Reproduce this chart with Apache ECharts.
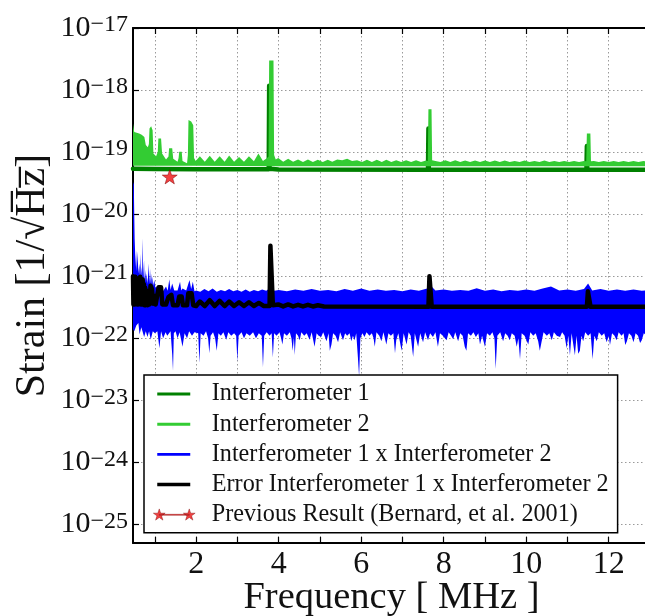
<!DOCTYPE html>
<html><head><meta charset="utf-8">
<script src="https://cdn.jsdelivr.net/npm/echarts@6/dist/echarts.min.js"></script>
<style>html,body{margin:0;padding:0;background:#fff}#c{width:645px;height:616px}</style>
</head><body><div id="c"></div>
<script>
// ---------- axis settings ----------
const X_MIN = 0.47, X_MAX = 13;
const Y_MIN = 5e-26, Y_MAX = 1e-17;
const xTicks = [1,2,3,4,5,6,7,8,9,10,11,12];
const xTickLabels = [2,4,6,8,10,12];
const yTicks = [1e-25,1e-24,1e-23,1e-22,1e-21,1e-20,1e-19,1e-18,1e-17];

// ---------- data (frequency MHz, strain in the stated unit) ----------
const U20 = 1e-20, U22 = 1e-22;

// Interferometer 1 (units 1e-20)
const ifo1 = [[0.47,5.4],[1.0,5.35],[2.0,5.3],[3.76,5.3],[3.77,117],[3.78,5.4],[4.0,5.25],[7.62,5.2],[7.63,24],[7.64,5.2],[11.46,5.2],[11.47,12.5],[11.48,5.2],[13,5.2]];

// Interferometer 2 upper / lower edge (units 1e-20)
const ifo2Hi = [[0.47,29],[0.50,21],[0.56,20.5],[0.62,20],[0.68,19],[0.745,17.5],[0.78,13],[0.83,12],[0.855,13.5],[0.87,24],[0.91,26],[0.945,22.5],[0.965,9.5],[1.03,8.6],[1.07,10],[1.085,16.6],[1.15,16.6],[1.175,9.5],[1.27,7.6],[1.33,8.5],[1.345,11.5],[1.42,11.5],[1.445,7.8],[1.55,7.0],[1.575,8.0],[1.59,10.1],[1.65,10.1],[1.67,7.2],[1.78,6.6],[1.80,9],[1.815,33],[1.88,31],[1.93,27],[1.95,8],[1.99,7.2],
[2.09,8.6],[2.21,7.0],[2.33,8.7],[2.45,7.0],[2.57,8.6],[2.69,7.0],[2.80,8.8],[2.92,7.0],[3.04,8.3],[3.16,7.0],[3.28,8.6],[3.40,7.1],[3.51,9.5],[3.62,7.2],[3.72,8.0],[3.755,8.5],[3.77,300],[3.875,300],[3.89,9],[3.93,7.6],
[3.99,8.0],[4.11,7.0],[4.23,7.8],[4.35,7.0],[4.47,7.6],[4.59,6.9],[4.71,7.6],[4.83,6.9],[4.95,7.5],[5.07,6.9],[5.19,7.5],[5.30,7.0],[5.42,7.6],[5.54,7.4],[5.66,7.8],[5.78,7.2],[5.90,7.4],[6.02,6.9],[6.14,7.5],[6.26,6.9],[6.38,7.5],[6.50,6.9],[6.61,7.5],[6.73,6.9],[6.85,7.4],[6.97,6.9],[7.09,7.4],[7.21,6.9],[7.33,7.4],[7.45,6.9],[7.57,7.3],[7.615,7.2],[7.63,49],[7.705,49],[7.72,7.4],[7.80,7.2],[7.92,6.9],[8.04,7.4],[8.16,6.9],[8.28,7.4],[8.40,6.9],[8.52,7.3],[8.64,6.9],[8.76,7.3],[8.88,6.9],[9.0,7.3],[9.12,6.9],[9.24,7.3],[9.36,6.9],[9.48,7.3],[9.60,6.9],[9.72,7.2],[9.84,6.9],[9.96,7.3],[10.08,6.9],[10.20,7.2],[10.32,6.9],[10.44,7.3],[10.56,6.9],[10.68,7.2],[10.80,6.9],[10.92,7.2],[11.04,6.9],[11.16,7.2],[11.28,6.9],[11.40,7.2],[11.455,7.1],[11.47,20],[11.555,20],[11.57,7.1],[11.64,7.2],[11.76,6.9],[11.88,7.2],[12.0,6.9],[12.12,7.2],[12.24,6.9],[12.36,7.2],[12.48,6.9],[12.60,7.2],[12.72,6.9],[12.84,7.2],[12.96,6.9],[13.0,7.0]];
const ifo2Lo = [[0.47,6.0],[2.0,6.0],[4.0,5.9],[13.0,5.9]];

// Interferometer 1 x Interferometer 2 upper / lower edge (units 1e-22)
const crossHi = [[0.47,330],[0.49,300],[0.50,100],[0.51,40],[0.52,26],[0.53,14],[0.545,26],[0.56,12],[0.58,25],[0.60,11],[0.625,16],[0.635,10],[0.648,23],[0.66,10],[0.672,14],[0.69,9],[0.704,41],[0.72,9],[0.738,18],[0.75,8],[0.769,12.6],[0.785,8],[0.80,11],[0.825,7.5],[0.85,16],[0.865,7.5],[0.883,13],[0.90,7.5],[0.915,11],[0.93,7],[0.947,9.8],[0.965,7],[0.988,8.7],[1.01,6.5],[1.03,6.8],[1.07,6.2],[1.11,7.1],[1.15,6.3],[1.19,5.6],[1.27,6.8],[1.31,5.8],[1.35,8.9],[1.38,6.0],[1.42,7.6],[1.47,5.9],[1.55,5.9],[1.61,8.1],[1.64,5.9],[1.67,6.3],[1.76,5.9],[1.84,8.7],[1.88,6.2],[1.92,8.1],[1.96,5.7],[2.0,5.9],
[2.1,5.6],[2.2,6.2],[2.3,5.7],[2.4,6.3],[2.5,5.6],[2.6,6.0],[2.7,5.7],[2.8,6.2],[2.9,5.7],[3.0,6.0],[3.1,5.6],[3.2,6.1],[3.3,5.6],[3.4,6.0],[3.5,5.7],[3.6,6.1],[3.7,5.8],[3.8,6.5],[3.9,5.8],[4.0,6.0],[4.2,5.7],[4.4,6.1],[4.6,5.8],[4.8,6.2],[5.0,5.8],[5.2,6.0],[5.4,5.7],[5.6,6.2],[5.8,5.8],[6.0,6.3],[6.2,5.8],[6.4,6.1],[6.6,5.8],[6.8,6.0],[7.0,5.7],[7.2,6.1],[7.4,5.8],[7.6,6.3],[7.7,6.9],[7.8,5.9],[8.0,6.1],[8.2,5.8],[8.4,6.0],[8.6,5.8],[8.8,6.4],[9.0,5.8],[9.2,6.1],[9.4,5.7],[9.6,6.0],[9.8,5.8],[10.0,6.1],[10.2,5.8],[10.4,6.3],[10.6,6.8],[10.8,5.9],[11.0,6.1],[11.2,5.8],[11.4,6.2],[11.5,7.6],[11.6,5.9],[11.8,6.2],[12.0,5.8],[12.2,6.1],[12.4,5.8],[12.6,6.1],[12.8,5.8],[13.0,6.0]];
const crossLo = [[0.47,1.4],[0.50,1.3],[0.55,1.6],[0.60,1.75],[0.63,1.15],[0.67,1.5],[0.70,1.3],[0.74,1.05],[0.78,1.3],[0.82,1.05],[0.86,1.3],[0.90,0.95],[0.95,1.3],[1.0,1.2],[1.06,1.3],[1.11,0.69],[1.15,1.3],[1.2,1.0],[1.26,1.25],[1.3,1.1],[1.38,1.3],[1.42,0.55],[1.44,0.30],[1.46,1.2],[1.5,1.3],[1.55,1.0],[1.6,1.25],[1.67,0.73],[1.72,1.2],[1.78,1.0],[1.83,1.3],[1.9,1.1],[1.96,1.25],[2.05,1.2],[2.08,0.40],[2.11,1.2],[2.18,1.1],[2.24,1.3],[2.29,1.0],[2.32,0.57],[2.35,1.1],[2.41,1.25],[2.46,1.0],[2.50,0.63],[2.54,1.2],[2.6,1.1],[2.66,1.25],[2.73,0.94],[2.78,1.25],[2.85,1.1],[2.92,1.2],[2.97,1.1],[3.0,0.42],[3.03,1.1],[3.1,1.25],[3.16,1.0],[3.22,1.2],[3.3,1.1],[3.38,1.25],[3.45,1.0],[3.52,1.2],[3.59,1.1],[3.62,0.34],[3.65,1.1],[3.71,1.25],[3.78,1.1],[3.83,1.2],[3.86,0.49],[3.89,1.2],[3.95,1.1],[4.02,1.25],[4.06,1.0],[4.09,0.79],[4.13,1.2],[4.2,1.1],[4.27,1.25],[4.31,1.0],[4.34,0.63],[4.37,1.05],[4.39,0.53],[4.42,1.2],[4.47,1.1],[4.51,0.93],[4.55,1.25],[4.62,1.1],[4.68,1.2],[4.75,0.94],[4.80,1.25],[4.87,0.73],[4.92,1.2],[4.97,1.1],[5.03,1.05],[5.08,1.25],[5.16,0.89],[5.21,1.2],[5.24,0.63],[5.28,0.79],[5.32,1.2],[5.38,1.1],[5.44,0.86],[5.49,1.25],[5.56,0.93],[5.61,1.2],[5.66,1.1],[5.72,1.2],[5.76,0.89],[5.80,1.1],[5.84,0.93],[5.88,1.2],[5.92,0.5],[5.95,0.24],[5.98,1.0],[6.03,1.2],[6.08,1.05],[6.13,1.25],[6.2,1.1],[6.26,1.2],[6.30,1.0],[6.33,0.73],[6.37,1.25],[6.44,1.1],[6.49,0.89],[6.54,1.25],[6.61,0.79],[6.66,1.2],[6.72,1.1],[6.78,1.2],[6.82,0.57],[6.85,0.93],[6.9,1.2],[6.98,0.63],[7.03,1.2],[7.10,0.79],[7.15,1.25],[7.2,1.1],[7.26,0.5],[7.30,1.2],[7.38,0.73],[7.43,1.2],[7.50,0.86],[7.55,1.25],[7.62,0.93],[7.67,1.2],[7.74,1.05],[7.80,1.25],[7.86,0.73],[7.91,1.2],[7.98,1.1],[8.07,0.93],[8.12,1.25],[8.18,1.1],[8.23,0.96],[8.28,1.25],[8.35,0.89],[8.40,1.2],[8.46,1.1],[8.51,0.73],[8.55,0.63],[8.59,1.2],[8.66,1.1],[8.72,1.25],[8.78,1.05],[8.84,1.2],[8.88,0.79],[8.93,1.1],[9.0,0.73],[9.05,1.2],[9.12,1.1],[9.18,1.25],[9.23,1.0],[9.26,0.32],[9.30,1.1],[9.37,1.25],[9.44,0.89],[9.49,1.2],[9.55,1.1],[9.60,0.93],[9.65,1.2],[9.72,1.1],[9.77,0.73],[9.81,1.0],[9.85,0.46],[9.89,1.2],[9.96,1.1],[10.05,0.79],[10.10,1.25],[10.17,1.1],[10.23,1.2],[10.29,0.89],[10.33,0.63],[10.37,0.86],[10.42,1.25],[10.5,1.1],[10.56,1.2],[10.62,0.93],[10.67,1.25],[10.74,1.1],[10.82,1.05],[10.87,1.25],[10.93,1.1],[10.98,0.69],[11.02,1.1],[11.06,0.53],[11.10,1.2],[11.18,0.53],[11.22,1.1],[11.26,0.56],[11.30,0.63],[11.34,1.1],[11.38,0.89],[11.43,1.25],[11.5,1.1],[11.56,1.2],[11.61,0.46],[11.65,1.1],[11.71,0.89],[11.76,1.25],[11.83,1.1],[11.89,1.2],[11.95,0.86],[12.0,1.1],[12.03,0.78],[12.08,1.2],[12.14,1.1],[12.19,0.93],[12.24,1.25],[12.31,1.1],[12.36,1.2],[12.40,0.78],[12.44,0.89],[12.49,1.2],[12.55,1.1],[12.60,0.86],[12.65,1.2],[12.71,1.1],[12.76,0.84],[12.80,0.93],[12.85,1.2],[12.92,1.1],[13.0,1.2]];

// Error Interferometer 1 x Interferometer 2 (units 1e-22)
const crossErr = [[0.47,10],[0.48,3.5],[0.495,9.6],[0.51,3.5],[0.525,9.8],[0.54,3.6],[0.555,8.6],[0.57,3.5],[0.585,9.2],[0.60,3.5],[0.615,8.4],[0.63,3.6],[0.645,9.8],[0.66,3.5],[0.675,8.0],[0.69,3.5],[0.705,8.8],[0.72,3.5],[0.735,7.4],[0.75,3.4],[0.765,6.5],[0.78,3.4],[0.80,5.8],[0.82,3.4],[0.85,5.4],[0.87,3.5],[0.895,7.0],[0.93,6.2],[0.96,3.6],[0.99,4.8],[1.02,3.5],[1.06,3.6],[1.09,6.6],[1.15,6.6],[1.18,3.5],[1.27,3.5],[1.33,4.6],[1.40,5.0],[1.44,3.4],[1.55,3.4],[1.59,4.7],[1.65,4.7],[1.68,3.4],[1.78,3.4],[1.81,5.3],[1.89,5.3],[1.93,3.4],[2.0,3.3],
[2.09,3.9],[2.21,3.3],[2.33,4.1],[2.45,3.3],[2.57,4.0],[2.69,3.3],[2.80,3.9],[2.92,3.3],[3.04,3.8],[3.16,3.3],[3.28,3.8],[3.40,3.3],[3.52,3.7],[3.64,3.3],[3.78,3.3],[3.80,31],[3.84,31],[3.86,3.4],[3.99,3.5],[4.11,3.25],[4.23,3.5],[4.35,3.25],[4.47,3.45],[4.59,3.25],[4.71,3.45],[4.83,3.25],[4.95,3.4],[5.1,3.25],[7.63,3.2],[7.655,10],[7.685,10],[7.71,3.2],[11.47,3.2],[11.495,5.7],[11.535,5.7],[11.56,3.2],[13,3.2]];

// Previous result (Bernard, et al. 2001)
const previous = [[1.36, 4.0e-20]];

// ---------- helpers ----------
const FONT = 'Liberation Serif';
const scale = (arr, u) => arr.map(p => [p[0], p[1] * u]);
const STAR = 'path://M10,0 L12.35,6.76 L19.51,6.91 L13.80,11.24 L15.88,18.09 L10,14 L4.12,18.09 L6.20,11.24 L0.49,6.91 L7.65,6.76 Z';
const BOX = 'M0,0 L0.01,0 Z M54,12 L53.99,12 Z ';
const lineIcon = h => 'path://' + BOX + 'M4.5,' + (6 - h/2) + ' L37.5,' + (6 - h/2) + ' L37.5,' + (6 + h/2) + ' L4.5,' + (6 + h/2) + ' Z';
const starIcon = 'path://' + BOX +
  'M6.5,5.5 L36.5,5.5 L36.5,6.5 L6.5,6.5 Z ' +
  'M6.5,0.1 L7.91,4.36 L12.40,4.38 L8.78,7.04 L10.15,11.32 L6.5,8.7 L2.85,11.32 L4.22,7.04 L0.60,4.38 L5.09,4.36 Z ' +
  'M36.5,0.1 L37.91,4.36 L42.40,4.38 L38.78,7.04 L40.15,11.32 L36.5,8.7 L32.85,11.32 L34.22,7.04 L30.60,4.38 L35.09,4.36 Z';

function band(name, hi, lo, unit, color, z) {
  const up = scale(hi, unit), dn = scale(lo, unit);
  return {
    name, type: 'custom', coordinateSystem: 'cartesian2d', z, clip: true, silent: true,
    itemStyle: { color },
    data: [up[0]],
    encode: { x: 0, y: 1 },
    renderItem(params, api) {
      const pts = up.map(p => api.coord(p)).concat(dn.slice().reverse().map(p => api.coord(p)));
      return { type: 'polygon', shape: { points: pts }, style: { fill: color } };
    }
  };
}

const GRID_LINE = { show: true, lineStyle: { color: '#9a9a9a', width: 1, type: [1.5, 2.5] } };
const AXIS_LINE = { show: true, onZero: false, lineStyle: { color: '#000', width: 2 } };

const chart = echarts.init(document.getElementById('c'), null, { renderer: 'canvas' });
chart.setOption({
  animation: false,
  backgroundColor: '#fff',
  grid: { left: 133, top: 28, right: -5, bottom: 73, containLabel: false, outerBoundsMode: 'none' },
  xAxis: [{
    type: 'value', min: X_MIN, max: X_MAX, position: 'bottom',
    axisLine: AXIS_LINE,
    axisTick: { show: true, inside: true, length: 6, customValues: xTicks, lineStyle: { color: '#000', width: 1.2 } },
    axisLabel: { customValues: xTickLabels, fontFamily: FONT, fontSize: 32, color: '#111', margin: 6 },
    splitLine: GRID_LINE,
    name: 'Frequency [ MHz ]', nameLocation: 'middle', nameGap: 35, nameMoveOverlap: false,
    nameTextStyle: { fontFamily: FONT, fontSize: 38.5, color: '#111' }
  }, {
    type: 'value', min: X_MIN, max: X_MAX, position: 'top',
    axisLine: AXIS_LINE,
    axisTick: { show: true, inside: true, length: 6, customValues: xTicks, lineStyle: { color: '#000', width: 1.2 } },
    axisLabel: { show: false }, splitLine: { show: false }
  }],
  yAxis: {
    type: 'log', logBase: 10, min: Y_MIN, max: Y_MAX,
    axisLine: AXIS_LINE,
    axisTick: { show: true, inside: true, length: 6, customValues: yTicks, lineStyle: { color: '#000', width: 1.2 } },
    minorTick: { show: false },
    axisLabel: {
      customValues: yTicks, margin: 5, color: '#111',
      formatter: v => '{b|10}{s|\u2212' + (-Math.round(Math.log10(v))) + '}',
      rich: {
        b: { fontFamily: FONT, fontSize: 30, lineHeight: 30, padding: [10, 0, 0, 0], verticalAlign: 'bottom', color: '#111' },
        s: { fontFamily: FONT, fontSize: 24, lineHeight: 24, verticalAlign: 'top', color: '#111' }
      }
    },
    splitLine: GRID_LINE,
    name: 'Strain [1/\u221AH\u0305z\u0305]', nameLocation: 'middle', nameGap: 79, nameRotate: 90, nameMoveOverlap: false,
    nameTextStyle: { fontFamily: FONT, fontSize: 42, color: '#111', padding: [0, 0, 0, 20] }
  },
  legend: {
    orient: 'vertical', left: 144, top: 375,
    backgroundColor: '#fff', borderColor: '#000', borderWidth: 1.5, borderRadius: 0,
    padding: [7, 9, 6, 8.5],
    itemWidth: 54, itemHeight: 12, itemGap: 6.2,
    selectedMode: false,
    textStyle: { fontFamily: FONT, fontSize: 24.2, color: '#111', lineHeight: 20 },
    data: [
      { name: 'Interferometer 1', icon: lineIcon(3), itemStyle: { color: '#008000', borderWidth: 0 } },
      { name: 'Interferometer 2', icon: lineIcon(3), itemStyle: { color: '#33cc33', borderWidth: 0 } },
      { name: 'Interferometer 1 x Interferometer 2', icon: lineIcon(2.6), itemStyle: { color: '#0000ff', borderWidth: 0 } },
      { name: 'Error Interferometer 1 x Interferometer 2', icon: lineIcon(3.5), itemStyle: { color: '#000000', borderWidth: 0 } },
      { name: 'Previous Result (Bernard, et al. 2001)', icon: starIcon, itemStyle: { color: '#ee1111', borderColor: '#7a0000', borderWidth: 0.5 } }
    ]
  },
  series: [
    band('Interferometer 1 x Interferometer 2', crossHi, crossLo, U22, '#0000ff', 2),
    {
      name: 'Error Interferometer 1 x Interferometer 2', type: 'line', z: 3, data: scale(crossErr, U22),
      showSymbol: false, symbol: 'none', color: '#000',
      lineStyle: { color: '#000', width: 4.5, join: 'round', cap: 'round' }
    },
    {
      name: 'Interferometer 1', type: 'line', z: 4, data: scale(ifo1, U20),
      showSymbol: false, symbol: 'none', color: '#008000',
      lineStyle: { color: '#008000', width: 4.5, join: 'round', cap: 'round' }
    },
    band('Interferometer 2', ifo2Hi, ifo2Lo, U20, '#33cc33', 5),
    {
      name: 'Previous Result (Bernard, et al. 2001)', type: 'scatter', z: 6, data: previous,
      symbol: STAR, symbolSize: 15, symbolKeepAspect: true,
      itemStyle: { color: '#ee1111', borderColor: '#7a0000', borderWidth: 0.6 }
    }
  ]
});
</script></body></html>
